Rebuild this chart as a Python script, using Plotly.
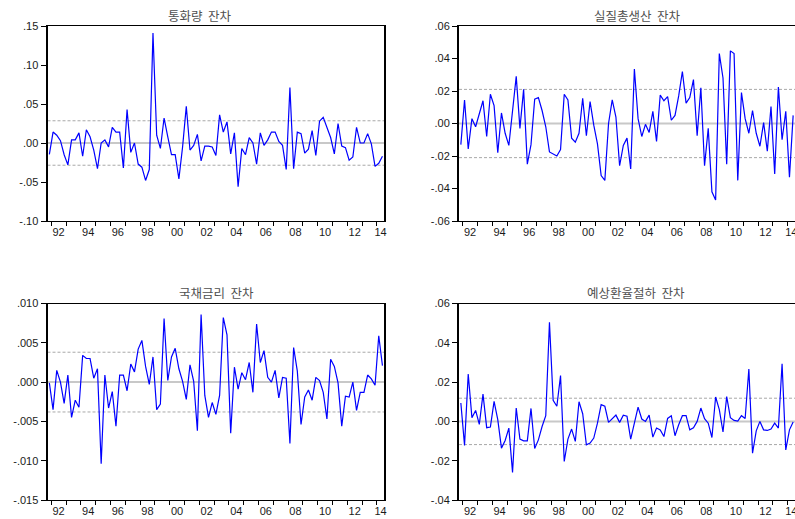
import plotly.graph_objects as go

# ---------------- data (quarterly residuals, 1991Q4 - 2014Q2) ----------------
start_year = 1991
start_quarter = 4

money_resid = [
    -0.0145, 0.014, 0.010, 0.003, -0.015, -0.028, 0.004, 0.004, 0.013, -0.017,
    0.017, 0.008, -0.009, -0.033, 0.000, 0.004, -0.005, 0.020, 0.014, 0.014,
    -0.032, 0.043, -0.012, 0.000, -0.027, -0.031, -0.048, -0.034, 0.141, 0.010,
    -0.007, 0.032, 0.008, -0.015, -0.015, -0.046, -0.005, 0.047, -0.009, -0.003,
    0.011, -0.023, -0.004, -0.004, -0.005, -0.016, 0.036, 0.014, 0.027, -0.014,
    0.013, -0.056, -0.007, -0.015, 0.007, 0.000, -0.027, 0.013, -0.003, 0.004,
    0.014, 0.014, 0.002, -0.003, -0.034, 0.071, -0.033, 0.014, 0.012, -0.013,
    -0.008, 0.016, -0.016, 0.028, 0.033, 0.019, 0.007, -0.014, 0.025, -0.004,
    -0.006, -0.022, -0.018, 0.020, 0.000, 0.000, 0.012, -0.001, -0.030, -0.026,
    -0.017,
]

gdp_resid = [
    -0.013, 0.0145, -0.0157, 0.003, -0.002, 0.006, 0.014, -0.008, 0.018, 0.011,
    -0.018, 0.0065, -0.006, -0.0135, 0.008, 0.029, -0.003, 0.021, -0.025, -0.013,
    0.015, 0.016, 0.008, -0.002, -0.0175, -0.019, -0.020, -0.016, 0.018, 0.0145,
    -0.009, -0.0115, -0.006, 0.0155, -0.0075, 0.0135, -0.001, -0.0125, -0.032, -0.035,
    0.000, 0.0145, 0.004, -0.026, -0.0135, -0.009, -0.028, 0.0335, 0.003, -0.008,
    -0.0005, -0.0055, 0.0075, -0.011, 0.0175, 0.014, 0.0165, 0.002, 0.005, 0.017,
    0.032, 0.0125, 0.016, 0.027, -0.0075, 0.022, -0.026, -0.003, -0.042, -0.047,
    0.043, 0.028, -0.025, 0.0447, 0.043, -0.035, 0.019, 0.003, -0.006, 0.008,
    -0.006, -0.014, 0.0005, -0.017, 0.0105, -0.031, 0.0225, -0.010, 0.0075, -0.033,
    0.005,
]

bond_resid = [
    -0.0001, -0.0035, 0.0015, 0.0000, -0.0027, 0.0009, -0.0045, -0.0023, -0.0032, 0.0034,
    0.0030, 0.0030, 0.0005, 0.0017, -0.0104, 0.0009, -0.0033, -0.0012, -0.0056, 0.0009,
    0.0009, -0.0011, 0.0023, 0.0013, 0.0042, 0.0053, 0.0020, -0.0003, 0.0032, -0.0035,
    -0.0028, 0.0081, 0.0002, 0.0032, 0.0043, 0.0017, 0.0001, -0.0022, 0.0022, 0.0001,
    -0.0062, 0.0086, -0.0017, -0.0045, -0.0026, -0.0041, -0.0017, 0.0082, 0.0060, -0.0065,
    0.0019, -0.0009, 0.0012, 0.0003, 0.0025, -0.0013, 0.0074, 0.0025, 0.0040, 0.0006,
    0.0000, 0.0015, -0.0020, 0.0006, 0.0005, -0.0078, 0.0044, 0.0014, -0.0054, -0.0019,
    -0.0010, -0.0023, 0.0006, 0.0002, -0.0013, -0.0047, 0.0029, 0.0020, -0.0001, -0.0056,
    -0.0018, -0.0019, 0.0000, -0.0036, -0.0013, -0.0013, 0.0009, 0.0004, -0.0004, 0.0059,
    0.0021,
]

fx_resid = [
    0.0094, -0.0122, 0.0241, 0.0019, 0.0056, -0.0015, 0.0139, -0.0032, -0.0029, 0.0102,
    0.0009, -0.0136, -0.0097, -0.0034, -0.0260, 0.0068, -0.0090, -0.0099, -0.0099, 0.0066,
    -0.0138, -0.0094, -0.0026, 0.0029, 0.0505, 0.0107, 0.0077, 0.0233, -0.0204, -0.0090,
    -0.0039, -0.0102, 0.0100, 0.0039, -0.0119, -0.0110, -0.0085, -0.0009, 0.0085, 0.0077,
    -0.0005, 0.0014, 0.0032, -0.0005, 0.0032, 0.0026, -0.0090, -0.0009, 0.0073, 0.0012,
    0.0000, 0.0032, -0.0080, -0.0034, -0.0043, -0.0077, 0.0015, 0.0029, -0.0073, -0.0017,
    0.0029, 0.0029, -0.0043, -0.0032, 0.0000, 0.0068, 0.0014, -0.0009, -0.0082, 0.0124,
    0.0060, -0.0054, 0.0126, 0.0019, 0.0005, 0.0002, 0.0029, 0.0015, 0.0267, -0.0162,
    -0.0048, 0.0000, -0.0043, -0.0046, -0.0039, -0.0009, -0.0034, 0.0293, -0.0145, -0.0043,
    -0.0003,
]

titles = ["통화량\u00a0\u00a0잔차", "실질총생산\u00a0\u00a0잔차", "국채금리\u00a0\u00a0잔차", "예상환율절하\u00a0\u00a0잔차"]

# two standard-error bands
bands = [0.0285, 0.021, 0.0038, 0.0118]

money_ticks = [-0.10, -0.05, 0.0, 0.05, 0.10, 0.15]
money_labels = ["-.10", "-.05", ".00", ".05", ".10", ".15"]
gdp_ticks = [-0.06, -0.04, -0.02, 0.0, 0.02, 0.04, 0.06]
gdp_labels = ["-.06", "-.04", "-.02", ".00", ".02", ".04", ".06"]
bond_ticks = [-0.015, -0.010, -0.005, 0.0, 0.005, 0.010]
bond_labels = ["-.015", "-.010", "-.005", ".000", ".005", ".010"]
fx_ticks = [-0.04, -0.02, 0.0, 0.02, 0.04, 0.06]
fx_labels = ["-.04", "-.02", ".00", ".02", ".04", ".06"]

# ---------------- derived ----------------
series = [money_resid, gdp_resid, bond_resid, fx_resid]
yticks = [money_ticks, gdp_ticks, bond_ticks, fx_ticks]
ylabels = [money_labels, gdp_labels, bond_labels, fx_labels]

n = len(money_resid)
x0 = start_year + (start_quarter - 1) / 4
xs = [x0 + i * 0.25 for i in range(n)]
xmin, xmax = xs[0] - 0.125, xs[-1] + 0.125

year_bounds = [y - 0.125 for y in range(int(xmin) + 1, int(xmax) + 1) if xmin < y - 0.125 < xmax]
lab_vals, lab_text = [], []
for y in range(int(xmin) + 1, int(xmax) + 1):
    if y % 2 == 0:
        a = max(y - 0.125, xmin)
        b = min(y + 0.875, xmax)
        lab_vals.append((a + b) / 2)
        lab_text.append(f"{y % 100:02d}")

W, H = 795, 519
# pixel boxes of plot areas: (left, right, top, bottom)
boxes = [
    (47.5, 384.3, 26, 221),
    (459.0, 795.0, 26, 221),
    (47.5, 384.3, 303.5, 500),
    (459.0, 795.0, 303.5, 500),
]
title_pos = [(200, 15), (637, 15), (216, 292), (636, 292)]

fig = go.Figure()
layout = dict(
    template="none",
    width=W, height=H, margin=dict(l=0, r=0, t=0, b=0, pad=0, autoexpand=False),
    paper_bgcolor="white", plot_bgcolor="white", showlegend=False,
    shapes=[], annotations=[],
)

tick_font = dict(family="Liberation Sans, Arial, sans-serif", size=11, color="#1a1a1a")

for k in range(4):
    sfx = "" if k == 0 else str(k + 1)
    xa, ya = "x" + sfx, "y" + sfx
    l, r, t, b = boxes[k]
    fig.add_trace(go.Scatter(
        x=xs, y=series[k], mode="lines", xaxis=xa, yaxis=ya,
        line=dict(color="#0000ff", width=1.2), hoverinfo="skip",
    ))
    layout["xaxis" + sfx] = dict(
        domain=[l / W, r / W], anchor=ya, range=[xmin, xmax], automargin=False,
        tickmode="array", tickvals=lab_vals, ticktext=lab_text,
        ticks="outside", ticklen=1, tickcolor="rgba(0,0,0,0)",
        ticklabeloverflow="allow",
        minor=dict(tickmode="array", tickvals=year_bounds, ticks="outside",
                   ticklen=4, tickcolor="black", tickwidth=1, showgrid=False),
        showline=True, linecolor="black", linewidth=1, mirror=True,
        showgrid=False, zeroline=False, tickfont=tick_font, fixedrange=True,
    )
    yt = yticks[k]
    layout["yaxis" + sfx] = dict(
        domain=[1 - b / H, 1 - t / H], anchor=xa, range=[min(yt), max(yt)],
        automargin=False,
        tickmode="array", tickvals=yt, ticktext=ylabels[k],
        ticks="outside", ticklen=5, tickcolor="black", tickwidth=1,
        showline=True, linecolor="black", linewidth=2, mirror=(k % 2 == 0),
        showgrid=False, zeroline=False, tickfont=tick_font, fixedrange=True,
    )
    # zero line
    layout["shapes"].append(dict(
        type="line", xref=xa + " domain", yref=ya, x0=0, x1=1, y0=0, y1=0,
        line=dict(color="#c8c8c8", width=2), layer="below",
    ))
    for s in (1, -1):
        layout["shapes"].append(dict(
            type="line", xref=xa + " domain", yref=ya, x0=0, x1=1,
            y0=s * bands[k], y1=s * bands[k],
            line=dict(color="#a8a8a8", width=1, dash="3px,2px"), layer="below",
        ))
    tx, ty = title_pos[k]
    layout["annotations"].append(dict(
        text=titles[k], xref="paper", yref="paper", x=tx / W, y=1 - ty / H,
        xanchor="center", yanchor="middle", showarrow=False,
        font=dict(family="Noto Sans CJK KR, sans-serif", size=12.5, color="#505050"),
    ))

fig.update_layout(**layout)
fig.write_html(
    "out.html",
    config={"displayModeBar": False},
    post_script="document.body.style.margin='0';document.body.style.overflow='hidden';",
)
